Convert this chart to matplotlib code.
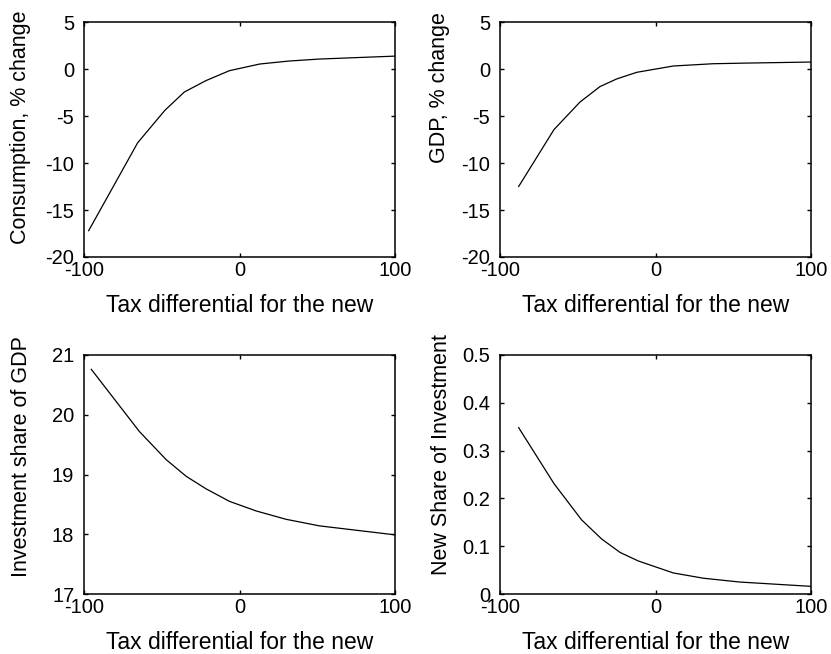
#!/usr/bin/env python3
"""
Effects of the tax differential for new capital: 2x2 panel, MATLAB-like style.
"""

import matplotlib

matplotlib.use("Agg")
import matplotlib.pyplot as plt

# Data
tax_diff_c = [-97, -65.5, -48, -35.5, -21.5, -6.5, 13, 32, 51.5, 100]
consumption = [-17.2, -7.85, -4.4, -2.45, -1.23, -0.18, 0.53, 0.85, 1.06, 1.37]

tax_diff_g = [-88, -65.3, -48.6, -35.7, -25, -12, 11.5, 37, 58.6, 100]
gdp = [-12.5, -6.45, -3.52, -1.87, -1.06, -0.35, 0.32, 0.56, 0.63, 0.74]

tax_diff_i = [-95.3, -64.4, -47.2, -34.3, -21.5, -6.4, 10.7, 30, 51.5, 100]
inv_share = [20.76, 19.72, 19.25, 18.97, 18.76, 18.55, 18.39, 18.25, 18.14, 17.99]

tax_diff_n = [-88, -65.3, -47.5, -34.6, -22.8, -11, 11.5, 30.8, 54.3, 100]
new_share = [0.348, 0.231, 0.155, 0.115, 0.087, 0.069, 0.044, 0.033, 0.025, 0.016]

x_ticks = [-100, 0, 100]
x_label = "Tax differential for the new"

W, H = 831, 654


def style_axes(ax):
    ax.tick_params(direction="in", top=True, right=True, length=3, width=1,
                   labelsize=14.5)
    ax.tick_params(axis="x", pad=3)
    ax.tick_params(axis="y", pad=7)
    for s in ax.spines.values():
        s.set_linewidth(1.1)
    ax.set_xlim(-100, 100)
    ax.set_xticks(x_ticks)
    ax.set_xlabel(x_label, fontsize=16.5, labelpad=10)


def main():
    plt.rcParams["font.family"] = ["Liberation Sans", "DejaVu Sans"]
    plt.rcParams["axes.unicode_minus"] = False
    fig = plt.figure(figsize=(W / 100, H / 100), dpi=100)

    def rect(l, t, r, b):
        return [l / W, 1 - b / H, (r - l) / W, (b - t) / H]

    ax1 = fig.add_axes(rect(84, 22, 395, 257))
    ax2 = fig.add_axes(rect(500, 22, 811, 257))
    ax3 = fig.add_axes(rect(84, 355, 395, 594))
    ax4 = fig.add_axes(rect(500, 355, 811, 594))

    ax1.plot(tax_diff_c, consumption, color="black", linewidth=0.9)
    ax1.set_ylim(-20, 5)
    ax1.set_yticks([-20, -15, -10, -5, 0, 5])
    ax1.set_ylabel("Consumption, % change", fontsize=15.5)
    ax1.yaxis.set_label_coords(-0.172, 0.55)

    ax2.plot(tax_diff_g, gdp, color="black", linewidth=0.9)
    ax2.set_ylim(-20, 5)
    ax2.set_yticks([-20, -15, -10, -5, 0, 5])
    ax2.set_ylabel("GDP, % change", fontsize=15.5)
    ax2.yaxis.set_label_coords(-0.162, 0.72)

    ax3.plot(tax_diff_i, inv_share, color="black", linewidth=0.9)
    ax3.set_ylim(17, 21)
    ax3.set_yticks([17, 18, 19, 20, 21])
    ax3.set_ylabel("Investment share of GDP", fontsize=15.5)
    ax3.yaxis.set_label_coords(-0.167, 0.577)

    ax4.plot(tax_diff_n, new_share, color="black", linewidth=0.9)
    ax4.set_ylim(0, 0.5)
    ax4.set_yticks([0, 0.1, 0.2, 0.3, 0.4, 0.5])
    ax4.set_yticklabels(["0", "0.1", "0.2", "0.3", "0.4", "0.5"])
    ax4.set_ylabel("New Share of Investment", fontsize=15.5)
    ax4.yaxis.set_label_coords(-0.155, 0.583)

    for ax in (ax1, ax2, ax3, ax4):
        style_axes(ax)

    fig.savefig("out.png", dpi=100)
    plt.close(fig)


if __name__ == "__main__":
    main()
